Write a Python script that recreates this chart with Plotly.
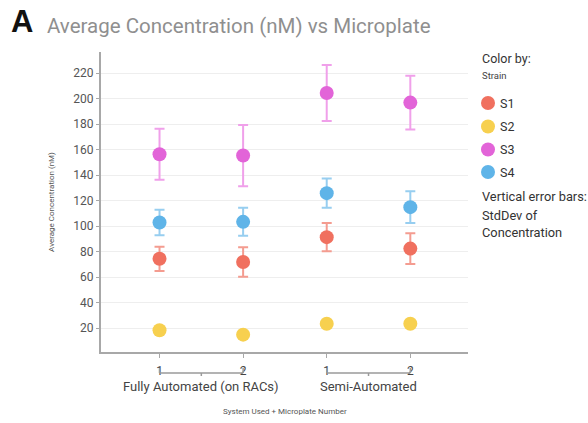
import plotly.graph_objects as go

# Groups on the x axis: system used, then microplate number within each system
systems = ["Fully Automated (on RACs)", "Semi-Automated"]
plates = ["1", "2"]

strains = ["S1", "S2", "S3", "S4"]
colors = ["#F0705F", "#F7D04F", "#E264D8", "#5FB4E8"]
err_colors = ["#F49C90", "#F9DF86", "#F0A0EA", "#97CEF0"]

# Mean concentration (nM) per strain, ordered FA-1, FA-2, SA-1, SA-2
mean_s1 = [74.5, 72.0, 91.5, 82.5]
mean_s2 = [18.5, 15.0, 23.5, 23.5]
mean_s3 = [156.5, 155.5, 204.5, 197.0]
mean_s4 = [103.0, 103.5, 126.0, 115.0]

# Standard deviation of concentration (nM)
sd_s1 = [9.5, 11.5, 11.0, 12.0]
sd_s2 = [1.5, 1.5, 2.0, 2.0]
sd_s3 = [20.0, 24.0, 22.0, 21.0]
sd_s4 = [10.0, 11.0, 11.5, 12.5]

means = [mean_s1, mean_s2, mean_s3, mean_s4]
sds = [sd_s1, sd_s2, sd_s3, sd_s4]

# x position of each (system, plate) pair
labels = [(s, p) for s in systems for p in plates]
xpos = list(range(len(labels)))

FONT = "Roboto, 'Open Sans', sans-serif"

# plot area in pixels, used to place the side panel and title in paper units
W, H = 588, 423
L, R, T, B = 101, 120, 52, 71
PW, PH = W - L - R, H - T - B


def px_x(px):
    return (px - L) / PW


def px_y(py):
    return (H - B - py) / PH


fig = go.Figure()
for name, m, sd, c, ec in zip(strains, means, sds, colors, err_colors):
    fig.add_trace(go.Scatter(
        x=xpos, y=m, mode="markers", name=name,
        marker=dict(color=c, size=14, line=dict(width=0)),
        error_y=dict(type="data", array=sd, visible=True,
                     color=ec, thickness=2, width=5),
    ))

shapes = []
annotations = []
# brackets joining the plates of each system, with the system name below
line = dict(color="#9a9a9a", width=1.5)
for sysname in systems:
    xs = [xpos[i] for i, lab in enumerate(labels) if lab[0] == sysname]
    x0, x1 = min(xs), max(xs)
    yb = px_y(373)
    shapes.append(dict(type="line", xref="x", yref="paper",
                       x0=x0, x1=x1, y0=yb, y1=yb, line=line))
    shapes.append(dict(type="line", xref="x", yref="paper",
                       x0=x0, x1=x0, y0=yb, y1=px_y(368), line=line))
    shapes.append(dict(type="line", xref="x", yref="paper",
                       x0=x1, x1=x1, y0=yb, y1=px_y(368), line=line))
    shapes.append(dict(type="line", xref="x", yref="paper",
                       x0=(x0 + x1) / 2, x1=(x0 + x1) / 2,
                       y0=yb, y1=px_y(376), line=line))
    annotations.append(dict(text=sysname, xref="x", yref="paper",
                            x=(x0 + x1) / 2, y=px_y(386), yanchor="middle",
                            showarrow=False,
                            font=dict(family=FONT, size=13, color="#444")))

# title pieces
annotations.append(dict(text="<b>A</b>", xref="paper", yref="paper",
                        x=px_x(9), y=px_y(21), xanchor="left", yanchor="middle",
                        showarrow=False,
                        font=dict(family="Liberation Sans, Arial", size=31, color="#111")))
annotations.append(dict(text="Average Concentration (nM) vs Microplate",
                        xref="paper", yref="paper",
                        x=px_x(45), y=px_y(26), xanchor="left", yanchor="middle",
                        showarrow=False,
                        font=dict(family=FONT, size=20.5, color="#8f8f8f")))
annotations.append(dict(text="System Used + Microplate Number",
                        xref="paper", yref="paper", x=0.5, y=px_y(411),
                        yanchor="middle", showarrow=False,
                        font=dict(family=FONT, size=8, color="#555")))

# colour key on the right
annotations.append(dict(text="Color by:", xref="paper", yref="paper",
                        x=px_x(480), y=px_y(58), xanchor="left", yanchor="middle",
                        showarrow=False,
                        font=dict(family=FONT, size=12.5, color="#333")))
annotations.append(dict(text="Strain", xref="paper", yref="paper",
                        x=px_x(480), y=px_y(75), xanchor="left", yanchor="middle",
                        showarrow=False,
                        font=dict(family=FONT, size=9.5, color="#444")))
key_y = [103, 126.5, 149.5, 172]
for name, c, ky in zip(strains, colors, key_y):
    shapes.append(dict(type="circle", xref="paper", yref="paper",
                       xsizemode="pixel", ysizemode="pixel",
                       xanchor=px_x(488), yanchor=px_y(ky),
                       x0=-7, x1=7, y0=-7, y1=7,
                       fillcolor=c, line=dict(width=0)))
    annotations.append(dict(text=name, xref="paper", yref="paper",
                            x=px_x(498), y=px_y(ky), xanchor="left", yanchor="middle",
                            showarrow=False,
                            font=dict(family=FONT, size=12.5, color="#333")))
for txt, ty in zip(["Vertical error bars:", "StdDev of", "Concentration"],
                   [197, 215, 233]):
    annotations.append(dict(text=txt, xref="paper", yref="paper",
                            x=px_x(480), y=px_y(ty), xanchor="left", yanchor="middle",
                            showarrow=False,
                            font=dict(family=FONT, size=12.8, color="#333")))

fig.update_layout(
    width=W, height=H,
    margin=dict(l=L, r=R, t=T, b=B),
    paper_bgcolor="white", plot_bgcolor="white",
    font=dict(family=FONT, color="#444"),
    showlegend=False,
    xaxis=dict(
        range=[-0.7, 3.69], tickvals=xpos, ticktext=[p for _, p in labels],
        showgrid=False, zeroline=False, showline=True,
        linecolor="#a8a8a8", linewidth=2,
        ticks="outside", ticklen=4, tickcolor="#a8a8a8",
        ticklabelstandoff=3,
        tickfont=dict(family=FONT, size=12, color="#444"),
    ),
    yaxis=dict(
        range=[1.4, 236.7], tickvals=list(range(20, 240, 20)),
        showgrid=True, gridcolor="#eeeeee", gridwidth=1,
        zeroline=False, showline=True, linecolor="#a8a8a8", linewidth=2,
        ticks="outside", ticklen=3, tickcolor="#a8a8a8",
        tickfont=dict(family=FONT, size=12, color="#555"),
        title=dict(text="Average Concentration (nM)", standoff=18,
                   font=dict(family=FONT, size=8, color="#555")),
    ),
    shapes=shapes,
    annotations=annotations,
)

fig.write_html("out.html")
